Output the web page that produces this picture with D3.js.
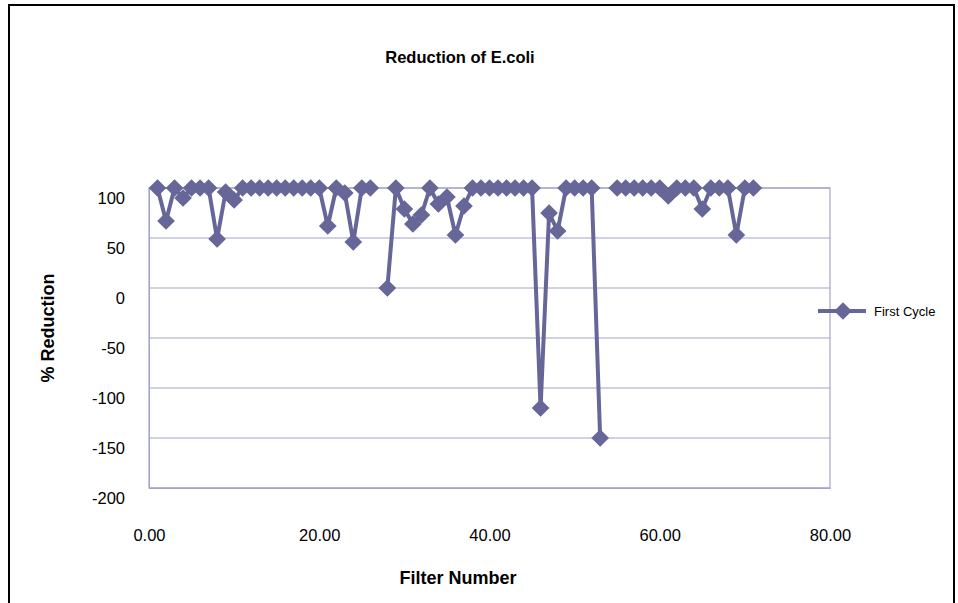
<!DOCTYPE html>
<html>
<head>
<meta charset="utf-8">
<script src="https://cdn.jsdelivr.net/npm/d3@7"></script>
<style>
  html, body { margin: 0; padding: 0; background: #fff; }
  svg { display: block; }
</style>
</head>
<body>
<svg id="chart" width="958" height="603"></svg>
<script>
// Filter numbers and % reduction after the first cycle (null = no reading)
const filterNumbers = d3.range(1, 72);
const firstCycle = [
  100, 67, 100, 90, 100, 100, 100, 49, 96, 88,
  100, 100, 100, 100, 100, 100, 100, 100, 100, 100,
  62, 100, 95, 46, 100, 100, null, 0, 100, 79,
  64, 73, 100, 84, 91, 53, 82, 100, 100, 100,
  100, 100, 100, 100, 100, -120, 75, 57, 100, 100,
  100, 100, -150, null, 100, 100, 100, 100, 100, 100,
  92, 100, 100, 100, 79, 100, 100, 100, 53, 100,
  100
];
const xTicks = [0, 20, 40, 60, 80];
const yTicks = [100, 50, 0, -50, -100, -150, -200];
const seriesName = "First Cycle";
const chartTitle = "Reduction of E.coli";
const xTitle = "Filter Number";
const yTitle = "% Reduction";

const svg = d3.select("#chart");
const lineColor = "#666699";
const gridColor = "#a3a3c9";
const font = "'Liberation Sans', Arial, sans-serif";

// outer chart frame
svg.append("rect")
  .attr("x", 9).attr("y", 5).attr("width", 945).attr("height", 640)
  .attr("fill", "#fff").attr("stroke", "#000").attr("stroke-width", 2);

const plot = { left: 149, right: 830, top: 188, bottom: 488 };
const x = d3.scaleLinear().domain([0, 80]).range([plot.left, plot.right]);
const y = d3.scaleLinear().domain([-200, 100]).range([plot.bottom, plot.top]);

// horizontal gridlines
svg.append("g").selectAll("line").data(yTicks).join("line")
  .attr("x1", plot.left).attr("x2", plot.right)
  .attr("y1", d => y(d)).attr("y2", d => y(d))
  .attr("stroke", gridColor).attr("stroke-width", 1.2);

// plot area border
svg.append("rect")
  .attr("x", plot.left).attr("y", plot.top)
  .attr("width", plot.right - plot.left).attr("height", plot.bottom - plot.top)
  .attr("fill", "none").attr("stroke", gridColor).attr("stroke-width", 1.2);

// axes
const yAxis = d3.axisLeft(y).tickValues(yTicks).tickSize(0).tickPadding(24)
  .tickFormat(d => String(d));
const gy = svg.append("g").attr("transform", `translate(${plot.left},0)`).call(yAxis);
gy.select(".domain").attr("stroke", gridColor);
gy.selectAll("text").attr("font-family", font).attr("font-size", 16.5)
  .attr("fill", "#000").attr("dy", "0.32em").attr("y", 10);

const xAxis = d3.axisBottom(x).tickValues(xTicks).tickSize(0).tickPadding(41)
  .tickFormat(d3.format(".2f"));
const gx = svg.append("g").attr("transform", `translate(0,${plot.bottom})`).call(xAxis);
gx.select(".domain").attr("stroke", gridColor);
gx.selectAll("text").attr("font-family", font).attr("font-size", 16.5).attr("fill", "#000");

// series
const pts = filterNumbers.map((f, i) => ({ f, v: firstCycle[i] }));
const line = d3.line().defined(d => d.v !== null)
  .x(d => x(d.f)).y(d => y(d.v));
svg.append("path").datum(pts)
  .attr("d", line).attr("fill", "none")
  .attr("stroke", lineColor).attr("stroke-width", 4).attr("stroke-linejoin", "round");

const diamond = d3.symbol().type(d3.symbolDiamond2).size(200);
svg.append("g").selectAll("path").data(pts.filter(d => d.v !== null)).join("path")
  .attr("transform", d => `translate(${x(d.f)},${y(d.v)})`)
  .attr("d", diamond).attr("fill", lineColor);

// titles
svg.append("text").attr("x", 460).attr("y", 63).attr("text-anchor", "middle")
  .attr("font-family", font).attr("font-weight", "bold").attr("font-size", 16.5)
  .text(chartTitle);
svg.append("text").attr("x", 458).attr("y", 584).attr("text-anchor", "middle")
  .attr("font-family", font).attr("font-weight", "bold").attr("font-size", 18)
  .text(xTitle);
svg.append("text").attr("transform", "translate(54,328) rotate(-90)")
  .attr("text-anchor", "middle")
  .attr("font-family", font).attr("font-weight", "bold").attr("font-size", 18)
  .text(yTitle);

// legend
const lg = svg.append("g").attr("transform", "translate(818,311)");
lg.append("line").attr("x1", 0).attr("x2", 48).attr("y1", 0).attr("y2", 0)
  .attr("stroke", lineColor).attr("stroke-width", 4);
lg.append("path").attr("transform", "translate(25,0)").attr("d", diamond).attr("fill", lineColor);
lg.append("text").attr("x", 56).attr("y", 5)
  .attr("font-family", font).attr("font-size", 13).text(seriesName);
</script>
</body>
</html>
